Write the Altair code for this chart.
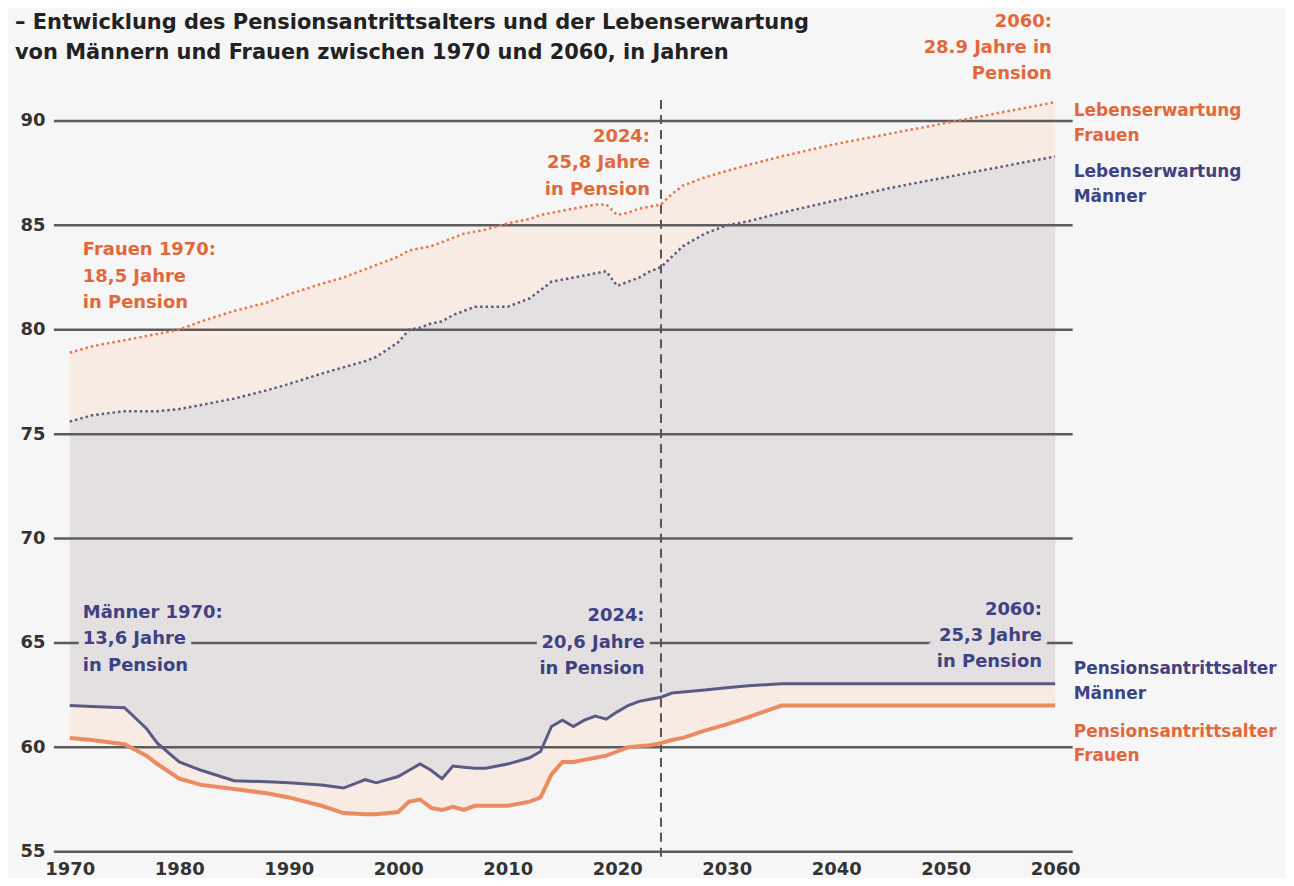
import altair as alt
import pandas as pd

# ---------------- data ----------------
years = [1970, 1972, 1975, 1977, 1978, 1980, 1982, 1985, 1988, 1990, 1993, 1995,
         1997, 1998, 2000, 2001, 2002, 2003, 2004, 2005, 2006, 2007, 2008, 2010,
         2012, 2013, 2014, 2015, 2016, 2017, 2018, 2019, 2020, 2021, 2022, 2023,
         2024, 2025, 2026, 2028, 2030, 2032, 2035, 2040, 2045, 2050, 2055, 2060]

men_pension = [62.0, 61.95, 61.9, 60.9, 60.2, 59.3, 58.9, 58.4, 58.35, 58.3, 58.2, 58.05,
               58.45, 58.3, 58.6, 58.9, 59.2, 58.9, 58.5, 59.1, 59.05, 59.0, 59.0, 59.2,
               59.5, 59.8, 61.0, 61.3, 61.0, 61.3, 61.5, 61.35, 61.7, 62.0, 62.2, 62.3,
               62.4, 62.6, 62.65, 62.75, 62.85, 62.95, 63.05, 63.05, 63.05, 63.05, 63.05, 63.05]

women_pension = [60.45, 60.35, 60.15, 59.6, 59.2, 58.5, 58.2, 58.0, 57.8, 57.6, 57.2, 56.85,
                 56.8, 56.8, 56.9, 57.4, 57.5, 57.1, 57.0, 57.15, 57.0, 57.2, 57.2, 57.2,
                 57.4, 57.6, 58.7, 59.3, 59.3, 59.4, 59.5, 59.6, 59.8, 60.0, 60.05, 60.1,
                 60.2, 60.35, 60.45, 60.8, 61.1, 61.45, 62.0, 62.0, 62.0, 62.0, 62.0, 62.0]

men_life = [75.6, 75.9, 76.1, 76.1, 76.1, 76.2, 76.4, 76.7, 77.1, 77.4, 77.9, 78.2,
            78.5, 78.7, 79.4, 80.0, 80.1, 80.3, 80.4, 80.7, 80.9, 81.1, 81.1, 81.1,
            81.5, 81.9, 82.3, 82.4, 82.5, 82.6, 82.7, 82.8, 82.1, 82.3, 82.5, 82.8,
            83.0, 83.5, 84.0, 84.6, 85.0, 85.2, 85.6, 86.2, 86.8, 87.3, 87.8, 88.3]

women_life = [78.9, 79.2, 79.5, 79.7, 79.8, 80.0, 80.4, 80.9, 81.3, 81.7, 82.2, 82.5,
              82.9, 83.1, 83.5, 83.8, 83.9, 84.0, 84.2, 84.4, 84.6, 84.7, 84.8, 85.1,
              85.3, 85.5, 85.6, 85.7, 85.8, 85.9, 86.0, 86.0, 85.5, 85.6, 85.8, 85.9,
              86.0, 86.5, 86.9, 87.3, 87.6, 87.9, 88.3, 88.9, 89.4, 89.9, 90.4, 90.9]

y_ticks = [55, 60, 65, 70, 75, 80, 85, 90]
x_ticks = [1970, 1980, 1990, 2000, 2010, 2020, 2030, 2040, 2050, 2060]
marker_year = [2024]

title_line1 = "– Entwicklung des Pensionsantrittsalters und der Lebenserwartung"
title_line2 = "von  Männern und Frauen zwischen 1970 und 2060, in Jahren"

# annotation lines (right-aligned blocks)
ann_right_text = ["2060:", "28.9 Jahre in", "Pension",
                  "2024:", "25,8 Jahre", "in Pension",
                  "2024:", "20,6 Jahre", "in Pension",
                  "2060:", "25,3 Jahre", "in Pension"]
ann_right_x = [2059.7, 2059.7, 2059.7,
               2023.0, 2023.0, 2023.0,
               2022.5, 2022.5, 2022.5,
               2058.8, 2058.8, 2058.8]
ann_right_y = [94.75, 93.50, 92.25,
               89.24, 87.99, 86.71,
               66.27, 64.98, 63.74,
               66.60, 65.32, 64.07]
ann_right_c = ["o", "o", "o", "o", "o", "o", "n", "n", "n", "n", "n", "n"]

# annotation lines (left-aligned blocks)
ann_left_text = ["Frauen 1970:", "18,5 Jahre", "in Pension",
                 "Männer 1970:", "13,6 Jahre", "in Pension"]
ann_left_x = [1971.2, 1971.2, 1971.2, 1971.2, 1971.2, 1971.2]
ann_left_y = [83.84, 82.51, 81.27, 66.41, 65.17, 63.88]
ann_left_c = ["o", "o", "o", "n", "n", "n"]

# series labels at the right edge
series_text = ["Lebenserwartung", "Frauen",
               "Lebenserwartung", "Männer",
               "Pensionsantrittsalter", "Männer",
               "Pensionsantrittsalter", "Frauen"]
series_x = [2061.7] * 8
series_y = [90.48, 89.29, 87.57, 86.38, 63.74, 62.55, 60.73, 59.58]
series_c = ["o", "o", "n", "n", "n", "n", "o", "o"]

# ---------------- styling ----------------
ORANGE_TXT = "#e2683a"
NAVY_TXT = "#3f4283"
MEN_LINE = "#5a5b84"
WOMEN_LINE = "#ea8b62"
MEN_DOT = "#5b5c7e"
WOMEN_DOT = "#e8764a"
FILL_MEN = "#e4e0e2"
FILL_WOMEN = "#f8ebe3"
BG = "#f6f6f6"
GRID = "#5c5c5c"
FONT = "DejaVu Sans"

W, H = 1022, 754
xs = alt.Scale(domain=[1968.55, 2061.6], nice=False, zero=False)
ys = alt.Scale(domain=[55, 91], nice=False, zero=False)

X_AXIS = alt.Axis(values=x_ticks, format="d", domain=False, ticks=False, grid=False,
                  labelPadding=9, labelFontSize=18, labelFontWeight="bold",
                  labelColor="#333333", labelFont=FONT, title=None)
Y_AXIS = alt.Axis(values=y_ticks, domain=False, ticks=False, grid=False,
                  labelPadding=9, labelFontSize=18, labelFontWeight="bold",
                  labelColor="#333333", labelFont=FONT, title=None)


def X(field):
    return alt.X(field, scale=xs, axis=X_AXIS, title=None)


def Y(field):
    return alt.Y(field, scale=ys, axis=Y_AXIS, title=None)


df = pd.DataFrame({"Jahr": years, "PM": men_pension, "PW": women_pension,
                   "LM": men_life, "LW": women_life})
grid_df = pd.DataFrame({"v": y_ticks})
vline_df = pd.DataFrame({"Jahr": marker_year})
col_map = {"o": ORANGE_TXT, "n": NAVY_TXT}


def tdf(t, x, y, c):
    return pd.DataFrame({"t": t, "x": x, "y": y, "c": [col_map[k] for k in c]})


ar = tdf(ann_right_text, ann_right_x, ann_right_y, ann_right_c)
al = tdf(ann_left_text, ann_left_x, ann_left_y, ann_left_c)
sl = tdf(series_text, series_x, series_y, series_c)

base = alt.Chart(df)

women_area = base.mark_area(color=FILL_WOMEN, opacity=1).encode(
    x=X("Jahr:Q"), y=Y("PW:Q"), y2="LW:Q")
men_area = base.mark_area(color=FILL_MEN, opacity=1).encode(
    x=X("Jahr:Q"), y=Y("PM:Q"), y2="LM:Q")

grid = alt.Chart(grid_df).mark_rule(color=GRID, strokeWidth=2.5).encode(
    y=Y("v:Q"), x=alt.value(0), x2=alt.value(W))

vline = alt.Chart(vline_df).mark_rule(color="#555555", strokeWidth=2,
                                      strokeDash=[9, 6]).encode(
    x=X("Jahr:Q"), y=alt.value(0), y2=alt.value(H + 7))


def line(field, color, width, dash=None):
    kw = dict(color=color, strokeWidth=width)
    if dash:
        kw["strokeDash"] = dash
    return base.mark_line(**kw).encode(x=X("Jahr:Q"), y=Y(f"{field}:Q"))


l_wp = line("PW", WOMEN_LINE, 4)
l_mp = line("PM", MEN_LINE, 3)
l_wl = line("LW", WOMEN_DOT, 2.5, [2.5, 3])
l_ml = line("LM", MEN_DOT, 2.5, [2.5, 3])


def texts(d, align, size=18, halo=True):
    TXT = dict(font=FONT, fontSize=size, fontWeight="bold", baseline="middle")
    enc = dict(x=X("x:Q"), y=Y("y:Q"), text="t:N")
    main = alt.Chart(d).mark_text(align=align, **TXT).encode(
        color=alt.Color("c:N", scale=None), **enc)
    if not halo:
        return main
    h = alt.Chart(d).mark_text(align=align, stroke=FILL_MEN, fill=FILL_MEN,
                               strokeWidth=12, **TXT).encode(**enc).transform_filter(
        (alt.datum.y > 63) & (alt.datum.y < 67))
    return h + main


def title_text(txt, ypix):
    return alt.Chart(pd.DataFrame({"t": [txt]})).mark_text(
        align="left", baseline="middle", font=FONT, fontSize=21,
        fontWeight="bold", color="#222222").encode(
        x=alt.value(-39), y=alt.value(ypix), text="t:N")


chart = alt.layer(
    women_area, men_area, grid, vline, l_wp, l_mp, l_wl, l_ml,
    texts(ar, "right"), texts(al, "left"), texts(sl, "left", 17, halo=False),
    title_text(title_line1, -77), title_text(title_line2, -47)
).properties(
    width=W, height=H,
    autosize=alt.AutoSizeParams(type="none"),
    padding={"left": 46, "top": 91, "right": 214, "bottom": 25},
    background=BG
).configure_view(stroke=None)

chart.save("out.html", embed_options={"renderer": "svg", "actions": False})
